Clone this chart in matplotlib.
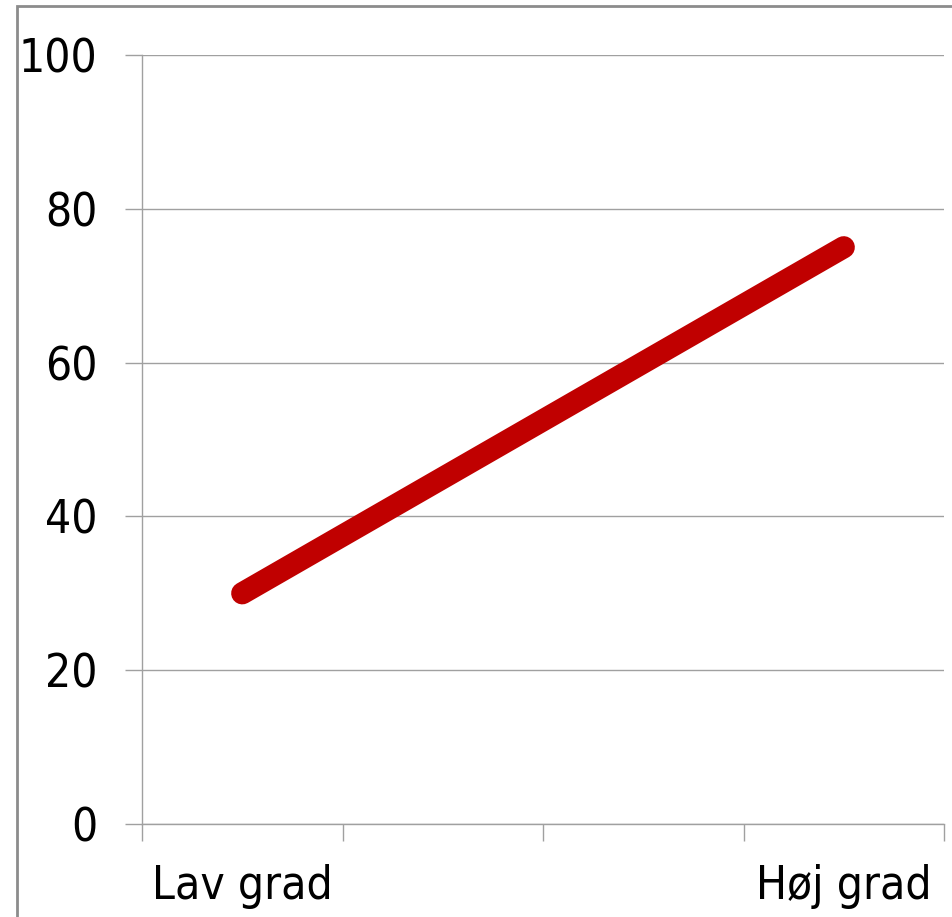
import numpy as np
import matplotlib
matplotlib.use("Agg")
import matplotlib.pyplot as plt
from matplotlib.patches import Rectangle

# Data
categories = ["Lav grad", "", "", "Høj grad"]
values = [30, 45, 60, 75]
y_ticks = [0, 20, 40, 60, 80, 100]

W, H, DPI = 953, 917, 100
fig = plt.figure(figsize=(W / DPI, H / DPI), dpi=DPI)
plt.rcParams['font.family'] = ['DejaVu Sans']
plt.rcParams['font.stretch'] = 'condensed'

ax = fig.add_axes([142 / W, 1 - 824 / H, (944 - 142) / W, (824 - 55) / H])

grid_c = "#a0a0a0"
x = np.arange(len(categories))
ax.plot(x, values, color="#c00000", linewidth=16, solid_capstyle="round", zorder=3)

ax.set_xlim(-0.5, len(categories) - 0.5)
ax.set_ylim(0, 100)

FS = 33

# y axis
ax.set_yticks(y_ticks)
ax.set_yticklabels([str(v) for v in y_ticks], fontsize=FS)
ax.yaxis.grid(True, color=grid_c, linewidth=1.0)
ax.tick_params(axis="y", length=12, width=1.0, color=grid_c, pad=20)

# x axis: tick marks between categories, labels at category centres
ax.set_xticks(np.arange(-0.5, len(categories), 1.0))
ax.set_xticklabels([])
ax.set_xticks(x, minor=True)
ax.set_xticklabels(categories, minor=True, fontsize=FS)
ax.tick_params(axis="x", which="major", length=12, width=1.0, color=grid_c)
ax.tick_params(axis="x", which="minor", length=0, pad=29)

for s in ["top", "right"]:
    ax.spines[s].set_visible(False)
for s in ["left", "bottom"]:
    ax.spines[s].set_color(grid_c)
    ax.spines[s].set_linewidth(1.0)

# outer chart frame
fig.patches.append(Rectangle((17 / W, -0.1), 1.2, 1 - 6 / H + 0.1,
                             transform=fig.transFigure, fill=False,
                             edgecolor="#8c8c8c", linewidth=2.0))

fig.savefig("out.png", dpi=DPI)
